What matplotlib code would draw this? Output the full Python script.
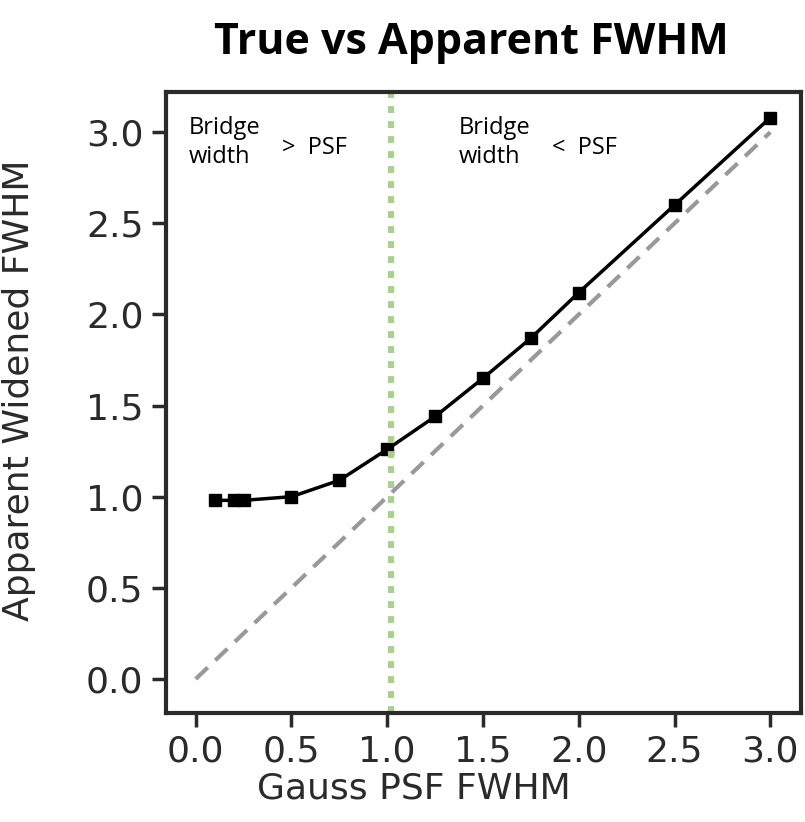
import numpy as np
import matplotlib.pyplot as plt

# measured PSF FWHM vs apparent widened FWHM
psf_fwhm = [0.1, 0.2, 0.25, 0.5, 0.75, 1.0, 1.25, 1.5, 1.75, 2.0, 2.5, 3.0]
apparent_fwhm = [0.98, 0.98, 0.98, 1.0, 1.09, 1.26, 1.44, 1.65, 1.87, 2.12, 2.60, 3.08]
one_to_one = [0.0, 3.0]
split_at = 1.02


def main():
  fig = plt.figure(figsize=(8.05, 8.22), dpi=100)
  ax = fig.add_axes([0.206, 0.133, 0.789, 0.755])

  ax.plot(one_to_one, one_to_one, ls=(0, (4, 2.5)), color='#999999', lw=3)
  ax.plot(psf_fwhm, apparent_fwhm, color='black', lw=2.5, marker='s', ms=8)
  ax.axvline(split_at, color='#a9d18e', ls=(0, (1.1, 1.3)), lw=4.5)

  ax.set_xlim(-0.156, 3.16)
  ax.set_ylim(-0.185, 3.22)
  ax.set_xticks(np.arange(0, 3.01, 0.5))
  ax.set_yticks(np.arange(0, 3.01, 0.5))
  ax.tick_params(labelsize=26, length=10, width=2.5, colors='#2a2a2a', pad=6)
  for s in ax.spines.values():
    s.set_linewidth(3)
    s.set_color('#2a2a2a')
  ax.set_xlabel('Gauss PSF FWHM', fontsize=26, color='#2a2a2a')
  ax.xaxis.set_label_coords(0.39, -0.095)
  ax.set_ylabel('Apparent Widened FWHM', fontsize=26, color='#2a2a2a')
  ax.yaxis.set_label_coords(-0.205, 0.52)

  fig.text(471/805, 1-42/822, 'True vs Apparent FWHM', fontsize=31, fontweight='bold',
           family='Open Sans', ha='center', va='center')
  fig.text(189/805, 1-116/822, 'Bridge\nwidth', fontsize=17, family='Open Sans',
           ha='left', va='top', linespacing=1.3)
  fig.text(282/805, 1-148/822, '>  PSF', fontsize=17, family='Open Sans', va='center')
  fig.text(459/805, 1-116/822, 'Bridge\nwidth', fontsize=17, family='Open Sans',
           ha='left', va='top', linespacing=1.3)
  fig.text(552/805, 1-148/822, '<  PSF', fontsize=17, family='Open Sans', va='center')

  fig.savefig('out.png', dpi=100)


if __name__ == "__main__":
    main()
